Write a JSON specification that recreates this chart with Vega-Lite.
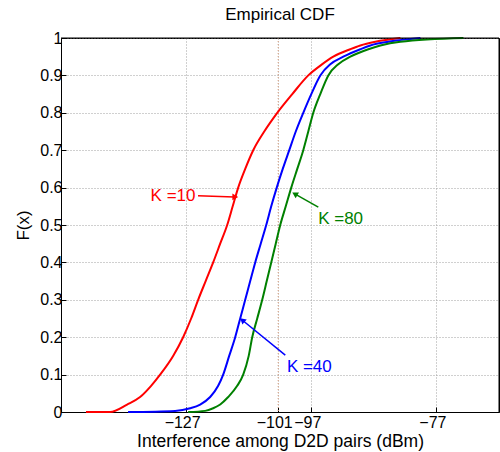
{
  "$schema": "https://vega.github.io/schema/vega-lite/v6.json",
  "width": 438,
  "height": 374,
  "autosize": {"type": "none"},
  "padding": {"left": 61, "top": 38, "right": 1, "bottom": 40},
  "background": "white",
  "config": {
    "font": "Liberation Sans",
    "view": {"stroke": "black", "strokeWidth": 1},
    "axis": {
      "domainColor": "black",
      "tickColor": "black",
      "labelColor": "black",
      "titleColor": "black",
      "labelFontSize": 16,
      "titleFontSize": 17,
      "titleFontWeight": "normal",
      "gridColor": "#a0a0a0",
      "gridDash": [1, 2],
      "gridWidth": 1,
      "tickSize": -5,
      "labelOverlap": false
    }
  },
  "title": {"text": "Empirical CDF", "fontSize": 17, "fontWeight": "normal", "color": "black", "offset": 6},
  "datasets": {
    "curves": [
      {"K": "K=10", "x": -136.0, "F": 0.0},
      {"K": "K=10", "x": -132.16, "F": 0.0},
      {"K": "K=10", "x": -129.44, "F": 0.02},
      {"K": "K=10", "x": -127.36, "F": 0.04},
      {"K": "K=10", "x": -125.6, "F": 0.07},
      {"K": "K=10", "x": -124.16, "F": 0.1},
      {"K": "K=10", "x": -122.08, "F": 0.15},
      {"K": "K=10", "x": -120.48, "F": 0.2},
      {"K": "K=10", "x": -119.2, "F": 0.25},
      {"K": "K=10", "x": -118.08, "F": 0.3},
      {"K": "K=10", "x": -116.88, "F": 0.35},
      {"K": "K=10", "x": -115.68, "F": 0.4},
      {"K": "K=10", "x": -114.56, "F": 0.45},
      {"K": "K=10", "x": -113.44, "F": 0.5},
      {"K": "K=10", "x": -112.56, "F": 0.55},
      {"K": "K=10", "x": -111.68, "F": 0.6},
      {"K": "K=10", "x": -110.56, "F": 0.65},
      {"K": "K=10", "x": -109.28, "F": 0.7},
      {"K": "K=10", "x": -107.52, "F": 0.75},
      {"K": "K=10", "x": -105.44, "F": 0.8},
      {"K": "K=10", "x": -103.04, "F": 0.85},
      {"K": "K=10", "x": -100.48, "F": 0.9},
      {"K": "K=10", "x": -98.24, "F": 0.93},
      {"K": "K=10", "x": -96.48, "F": 0.95},
      {"K": "K=10", "x": -93.76, "F": 0.97},
      {"K": "K=10", "x": -92.16, "F": 0.98},
      {"K": "K=10", "x": -89.76, "F": 0.99},
      {"K": "K=10", "x": -85.76, "F": 1.0},
      {"K": "K=40", "x": -129.28, "F": 0.0},
      {"K": "K=40", "x": -121.76, "F": 0.003},
      {"K": "K=40", "x": -119.36, "F": 0.01},
      {"K": "K=40", "x": -117.76, "F": 0.02},
      {"K": "K=40", "x": -116.16, "F": 0.04},
      {"K": "K=40", "x": -114.88, "F": 0.07},
      {"K": "K=40", "x": -114.08, "F": 0.1},
      {"K": "K=40", "x": -113.12, "F": 0.15},
      {"K": "K=40", "x": -112.16, "F": 0.2},
      {"K": "K=40", "x": -111.36, "F": 0.25},
      {"K": "K=40", "x": -110.56, "F": 0.3},
      {"K": "K=40", "x": -109.76, "F": 0.35},
      {"K": "K=40", "x": -108.96, "F": 0.4},
      {"K": "K=40", "x": -108.08, "F": 0.45},
      {"K": "K=40", "x": -107.2, "F": 0.5},
      {"K": "K=40", "x": -106.4, "F": 0.55},
      {"K": "K=40", "x": -105.52, "F": 0.6},
      {"K": "K=40", "x": -104.56, "F": 0.65},
      {"K": "K=40", "x": -103.52, "F": 0.7},
      {"K": "K=40", "x": -102.48, "F": 0.75},
      {"K": "K=40", "x": -101.28, "F": 0.8},
      {"K": "K=40", "x": -100.0, "F": 0.85},
      {"K": "K=40", "x": -98.56, "F": 0.9},
      {"K": "K=40", "x": -96.96, "F": 0.93},
      {"K": "K=40", "x": -94.88, "F": 0.95},
      {"K": "K=40", "x": -92.16, "F": 0.97},
      {"K": "K=40", "x": -90.56, "F": 0.98},
      {"K": "K=40", "x": -87.68, "F": 0.99},
      {"K": "K=40", "x": -82.56, "F": 1.0},
      {"K": "K=80", "x": -119.68, "F": 0.0},
      {"K": "K=80", "x": -116.96, "F": 0.003},
      {"K": "K=80", "x": -115.68, "F": 0.01},
      {"K": "K=80", "x": -114.56, "F": 0.02},
      {"K": "K=80", "x": -113.28, "F": 0.04},
      {"K": "K=80", "x": -111.84, "F": 0.07},
      {"K": "K=80", "x": -110.88, "F": 0.1},
      {"K": "K=80", "x": -110.0, "F": 0.15},
      {"K": "K=80", "x": -109.44, "F": 0.2},
      {"K": "K=80", "x": -108.64, "F": 0.25},
      {"K": "K=80", "x": -107.84, "F": 0.3},
      {"K": "K=80", "x": -107.12, "F": 0.35},
      {"K": "K=80", "x": -106.4, "F": 0.4},
      {"K": "K=80", "x": -105.68, "F": 0.45},
      {"K": "K=80", "x": -104.96, "F": 0.5},
      {"K": "K=80", "x": -104.08, "F": 0.55},
      {"K": "K=80", "x": -103.2, "F": 0.6},
      {"K": "K=80", "x": -102.24, "F": 0.65},
      {"K": "K=80", "x": -101.28, "F": 0.7},
      {"K": "K=80", "x": -100.48, "F": 0.75},
      {"K": "K=80", "x": -99.68, "F": 0.8},
      {"K": "K=80", "x": -98.56, "F": 0.85},
      {"K": "K=80", "x": -97.28, "F": 0.9},
      {"K": "K=80", "x": -95.68, "F": 0.93},
      {"K": "K=80", "x": -93.76, "F": 0.95},
      {"K": "K=80", "x": -90.88, "F": 0.97},
      {"K": "K=80", "x": -88.96, "F": 0.98},
      {"K": "K=80", "x": -85.76, "F": 0.99},
      {"K": "K=80", "x": -75.68, "F": 1.0}
    ],
    "arrows": [
      {"K": "K=10", "x": -118.1, "y": 0.578, "x2": -112.3, "y2": 0.575, "label": "K =10", "tx": -118.5, "ty": 0.578, "angle": 90},
      {"K": "K=40", "x": -104.16, "y": 0.152, "x2": -110.9, "y2": 0.244, "label": "K =40", "tx": -103.9, "ty": 0.12, "angle": 310},
      {"K": "K=80", "x": -98.88, "y": 0.548, "x2": -102.5, "y2": 0.582, "label": "K =80", "tx": -98.9, "ty": 0.516, "angle": 300}
    ],
    "border": [
      {"x": -70, "F": 1}
    ]
  },
  "layer": [
    {
      "data": {"values": [{"v": -105.28}]},
      "mark": {"type": "rule", "color": "#dba88c", "strokeDash": [1, 2], "strokeWidth": 1.2},
      "encoding": {"x": {"field": "v", "type": "quantitative"}}
    },
    {
      "data": {"name": "curves"},
      "mark": {"type": "line", "strokeWidth": 2, "interpolate": "monotone"},
      "encoding": {
        "x": {
          "field": "x", "type": "quantitative",
          "scale": {"domain": [-140, -70], "nice": false, "zero": false},
          "axis": {
            "title": "Interference among D2D pairs (dBm)",
            "titleFontSize": 17.5,
            "values": [-120, -105.28, -100, -80],
            "labelExpr": "datum.value == -120 ? '\u2212127' : datum.value == -100 ? '\u221297' : datum.value == -80 ? '\u221277' : '\u2212101'",
            "labelPadding": 7,
            "labelOffset": -4,
            "titlePadding": 2,
            "grid": true
          }
        },
        "y": {
          "field": "F", "type": "quantitative",
          "scale": {"domain": [0, 1], "nice": false},
          "axis": {
            "title": "F(x)",
            "values": [0, 0.1, 0.2, 0.3, 0.4, 0.5, 0.6, 0.7, 0.8, 0.9, 1],
            "tickCount": 11,
            "format": ".1~f",
            "labelPadding": 4,
            "titlePadding": 7,
            "grid": true
          }
        },
        "color": {
          "field": "K", "type": "nominal",
          "scale": {"domain": ["K=10", "K=40", "K=80"], "range": ["#ff0000", "#0000ff", "#008000"]},
          "legend": null
        }
      }
    },
    {
      "data": {"name": "border"},
      "mark": {"type": "rule", "color": "black", "strokeWidth": 1},
      "encoding": {"y": {"field": "F", "type": "quantitative"}}
    },
    {
      "data": {"name": "border"},
      "mark": {"type": "rule", "color": "black", "strokeWidth": 1},
      "encoding": {"x": {"field": "x", "type": "quantitative"}}
    },
    {
      "data": {"name": "arrows"},
      "mark": {"type": "rule", "strokeWidth": 1.5},
      "encoding": {
        "x": {"field": "x", "type": "quantitative"},
        "y": {"field": "y", "type": "quantitative"},
        "x2": {"field": "x2"},
        "y2": {"field": "y2"},
        "color": {"field": "K", "type": "nominal", "legend": null}
      }
    },
    {
      "data": {"name": "arrows"},
      "mark": {"type": "point", "shape": "triangle", "filled": true, "size": 45, "opacity": 1},
      "encoding": {
        "x": {"field": "x2", "type": "quantitative"},
        "y": {"field": "y2", "type": "quantitative"},
        "angle": {"field": "angle", "type": "quantitative", "scale": null},
        "color": {"field": "K", "type": "nominal", "legend": null}
      }
    },
    {
      "data": {"name": "arrows"},
      "transform": [{"filter": "datum.K == 'K=10'"}],
      "mark": {"type": "text", "fontSize": 17, "baseline": "middle", "align": "right"},
      "encoding": {
        "x": {"field": "tx", "type": "quantitative"},
        "y": {"field": "ty", "type": "quantitative"},
        "text": {"field": "label"},
        "color": {"field": "K", "type": "nominal", "legend": null}
      }
    },
    {
      "data": {"name": "arrows"},
      "transform": [{"filter": "datum.K != 'K=10'"}],
      "mark": {"type": "text", "fontSize": 17, "baseline": "middle", "align": "left"},
      "encoding": {
        "x": {"field": "tx", "type": "quantitative"},
        "y": {"field": "ty", "type": "quantitative"},
        "text": {"field": "label"},
        "color": {"field": "K", "type": "nominal", "legend": null}
      }
    }
  ]
}
